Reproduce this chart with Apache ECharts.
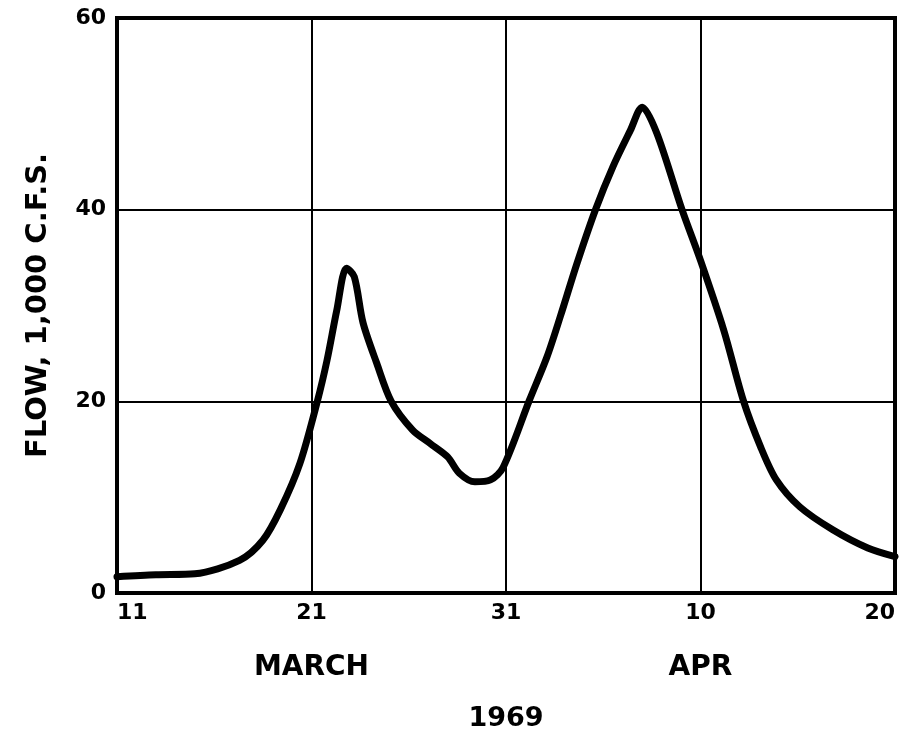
<!DOCTYPE html>
<html><head><meta charset="utf-8">
<script src="https://cdn.jsdelivr.net/npm/echarts@6/dist/echarts.min.js"></script>
<style>html,body{margin:0;padding:0;background:#fff}#c{width:901px;height:735px}</style>
</head><body><div id="c"></div>
<script>
// days after March 11, 1969
const days = [0, 2, 4, 6.3, 7.5, 8.4, 9.4, 10.3, 10.8, 11.3, 11.8, 12.2, 12.65, 13.35, 14.1, 15.2, 16.1, 17.0, 17.6, 18.4, 19.2, 19.85, 21.2, 22.1, 22.8, 23.65, 24.6, 25.5, 26.4, 27.0, 27.75, 29.05, 30.0, 31.2, 32.2, 33.1, 33.9, 35.1, 36.8, 38.6, 40];
// flow, 1,000 c.f.s.
const flow = [1.7, 1.9, 2.0, 3.4, 5.5, 8.7, 13.5, 20.0, 24.3, 29.5, 33.9, 33.0, 28.2, 24.0, 20.0, 17.0, 15.6, 14.2, 12.5, 11.6, 11.8, 13.1, 20.1, 24.6, 28.9, 34.4, 40.0, 44.5, 48.3, 50.7, 48.0, 40.0, 34.7, 27.4, 20.1, 15.2, 11.8, 9.0, 6.6, 4.7, 3.8];
const xTickLabels = ['11', '21', '31', '10', '20'];
const monthLabels = {10: 'MARCH', 30: 'APR'};
const yearLabel = '1969';
const yTitle = 'FLOW, 1,000 C.F.S.';

const F = '"DejaVu Sans", sans-serif';
const chart = echarts.init(document.getElementById('c'));
chart.setOption({
  animation: false,
  backgroundColor: '#fff',
  grid: {left: 117, right: 6, top: 18, bottom: 142, show: true, borderColor: '#000', borderWidth: 4,
         containLabel: false, outerBoundsMode: 'none'},
  xAxis: {
    type: 'value', min: 0, max: 40, interval: 10,
    name: yearLabel, nameLocation: 'middle', nameGap: 112,
    nameTextStyle: {fontFamily: F, fontWeight: 'bold', fontSize: 27, color: '#000'},
    axisLine: {show: true, lineStyle: {color: '#000', width: 4}},
    axisTick: {show: false},
    splitLine: {show: true, lineStyle: {color: '#000', width: 2}},
    axisLabel: {
      margin: 9, color: '#000', fontFamily: F, fontWeight: 'bold', fontSize: 22,
      alignMinLabel: 'left', alignMaxLabel: 'right',
      formatter: function (v) {
        const t = xTickLabels[Math.round(v / 10)];
        return monthLabels[v] ? t + '\n{m|' + monthLabels[v] + '}' : t;
      },
      rich: {m: {fontFamily: F, fontWeight: 'bold', fontSize: 28, color: '#000', padding: [30, 0, 0, 0]}}
    }
  },
  yAxis: {
    type: 'value', min: 0, max: 60, interval: 20,
    name: yTitle, nameLocation: 'middle', nameGap: 64, nameRotate: 90,
    nameTextStyle: {fontFamily: F, fontWeight: 'bold', fontSize: 29, color: '#000'},
    axisLine: {show: true, lineStyle: {color: '#000', width: 4}},
    axisTick: {show: false},
    splitLine: {show: true, lineStyle: {color: '#000', width: 2}},
    axisLabel: {margin: 11, color: '#000', fontFamily: F, fontWeight: 'bold', fontSize: 22}
  },
  series: [{
    type: 'line', smooth: 0.3, symbol: 'none',
    data: days.map((d, i) => [d, flow[i]]),
    lineStyle: {color: '#000', width: 7, cap: 'round', join: 'round'}
  }]
});
</script></body></html>
